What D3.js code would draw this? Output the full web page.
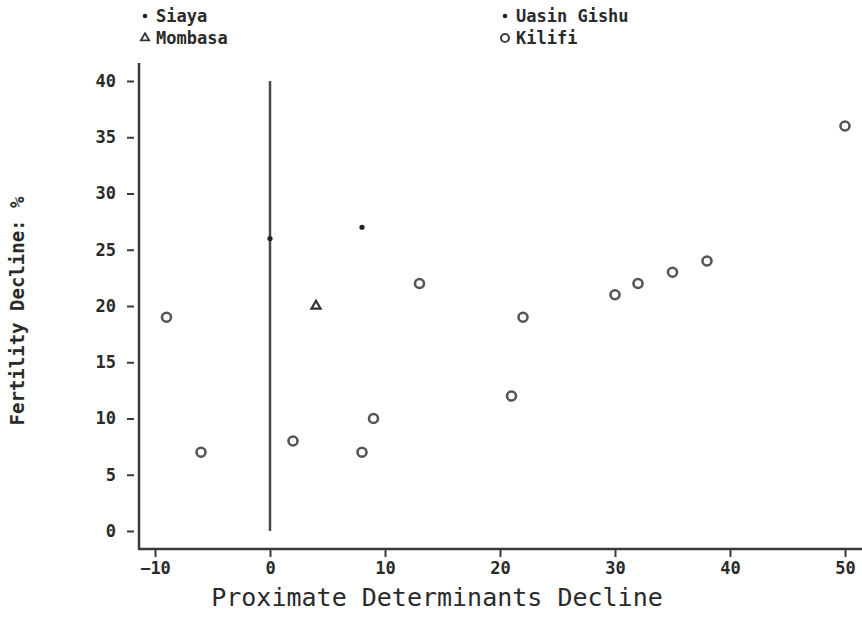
<!DOCTYPE html>
<html>
<head>
<meta charset="utf-8">
<script src="https://cdn.jsdelivr.net/npm/d3@7"></script>
<style>
  html, body { margin: 0; padding: 0; background: #fff; }
  svg { display: block; }
  text { font-family: "DejaVu Sans Mono", "Liberation Mono", monospace; fill: #2a2a2a; }
</style>
</head>
<body>
<svg id="chart" width="862" height="637"></svg>
<script>
// Fertility decline vs. proximate determinants decline, by district
const kilifiX = [-9, -6, 2, 8, 9, 13, 21, 22, 30, 32, 35, 38, 50];
const kilifiY = [19, 7, 8, 7, 10, 22, 12, 19, 21, 22, 23, 24, 36];
const siayaX = [0];
const siayaY = [26];
const uasinGishuX = [8];
const uasinGishuY = [27];
const mombasaX = [4];
const mombasaY = [20];
// vertical reference line at zero decline
const refLineX = [0, 0];
const refLineY = [0, 40];

const xTicks = [-10, 0, 10, 20, 30, 40, 50];
const yTicks = [0, 5, 10, 15, 20, 25, 30, 35, 40];
const legendNames = ["Siaya", "Mombasa", "Uasin Gishu", "Kilifi"];

const svg = d3.select("#chart");
const ink = "#3a3a3a";

const x = d3.scaleLinear().domain([-10, 50]).range([155, 845]);
const y = d3.scaleLinear().domain([0, 40]).range([531, 81]);

const axisX0 = 139, axisY0 = 549;

// axis lines
svg.append("line")
  .attr("x1", axisX0).attr("x2", axisX0)
  .attr("y1", 63).attr("y2", axisY0 + 1)
  .attr("stroke", ink).attr("stroke-width", 2.5);
svg.append("line")
  .attr("x1", axisX0 - 1).attr("x2", 862)
  .attr("y1", axisY0).attr("y2", axisY0)
  .attr("stroke", ink).attr("stroke-width", 2.5);

// x axis ticks and labels
const gx = svg.append("g")
  .attr("transform", `translate(0,${axisY0})`)
  .call(d3.axisBottom(x).tickValues(xTicks).tickSize(8).tickPadding(5).tickFormat(d3.format("d")));
gx.select(".domain").remove();
gx.selectAll(".tick line").attr("stroke", ink).attr("stroke-width", 2);
gx.selectAll(".tick text")
  .attr("font-size", 17).attr("font-weight", "bold")
  .attr("fill", "#2a2a2a")
  .style("font-family", "'DejaVu Sans Mono', monospace");

// y axis ticks (short dashes, detached from the axis line) and labels
const gy = svg.append("g")
  .attr("transform", "translate(134,0)")
  .call(d3.axisLeft(y).tickValues(yTicks).tickSize(7).tickPadding(11).tickFormat(d3.format("d")));
gy.select(".domain").remove();
gy.selectAll(".tick line").attr("stroke", ink).attr("stroke-width", 2);
gy.selectAll(".tick text")
  .attr("font-size", 17).attr("font-weight", "bold")
  .attr("fill", "#2a2a2a")
  .style("font-family", "'DejaVu Sans Mono', monospace");

// axis titles
svg.append("text")
  .attr("x", 437).attr("y", 606)
  .attr("text-anchor", "middle")
  .attr("font-size", 25)
  .text("Proximate Determinants Decline");
svg.append("text")
  .attr("transform", "translate(24,311) rotate(-90)")
  .attr("text-anchor", "middle")
  .attr("font-size", 19).attr("font-weight", "bold")
  .text("Fertility Decline: %");

// reference line
svg.append("line")
  .attr("x1", x(refLineX[0])).attr("x2", x(refLineX[1]))
  .attr("y1", y(refLineY[0])).attr("y2", y(refLineY[1]))
  .attr("stroke", "#4a4a4a").attr("stroke-width", 2.5);

// Kilifi: open circles
svg.append("g").selectAll("circle")
  .data(kilifiX.map((d, i) => [d, kilifiY[i]]))
  .join("circle")
  .attr("cx", d => x(d[0])).attr("cy", d => y(d[1]))
  .attr("r", 4.5)
  .attr("fill", "none").attr("stroke", "#555").attr("stroke-width", 2.6);

// Siaya and Uasin Gishu: small dots
const dots = siayaX.map((d, i) => [d, siayaY[i]])
  .concat(uasinGishuX.map((d, i) => [d, uasinGishuY[i]]));
svg.append("g").selectAll("circle")
  .data(dots)
  .join("circle")
  .attr("cx", d => x(d[0])).attr("cy", d => y(d[1]))
  .attr("r", 2.6)
  .attr("fill", "#222");

// Mombasa: small triangle
const tri = d3.symbol().type(d3.symbolTriangle).size(36);
svg.append("g").selectAll("path")
  .data(mombasaX.map((d, i) => [d, mombasaY[i]]))
  .join("path")
  .attr("transform", d => `translate(${x(d[0])},${y(d[1])})`)
  .attr("d", tri)
  .attr("fill", "none").attr("stroke", "#333").attr("stroke-width", 2.2);

// legend
const legendPos = [
  { sx: 145, tx: 156, y: 22, kind: "dot" },
  { sx: 145, tx: 156, y: 44, kind: "tri" },
  { sx: 505, tx: 516, y: 22, kind: "dot" },
  { sx: 505, tx: 516, y: 44, kind: "circle" }
];
legendNames.forEach((name, i) => {
  const p = legendPos[i];
  const cy = p.y - 6;
  if (p.kind === "dot") {
    svg.append("circle").attr("cx", p.sx).attr("cy", cy).attr("r", 2.3).attr("fill", "#222");
  } else if (p.kind === "tri") {
    svg.append("path").attr("transform", `translate(${p.sx},${cy})`)
      .attr("d", d3.symbol().type(d3.symbolTriangle).size(30))
      .attr("fill", "none").attr("stroke", "#333").attr("stroke-width", 1.8);
  } else {
    svg.append("circle").attr("cx", p.sx).attr("cy", cy).attr("r", 4)
      .attr("fill", "none").attr("stroke", "#444").attr("stroke-width", 2.2);
  }
  svg.append("text")
    .attr("x", p.tx).attr("y", p.y)
    .attr("font-size", 17).attr("font-weight", "bold")
    .text(name);
});
</script>
</body>
</html>
